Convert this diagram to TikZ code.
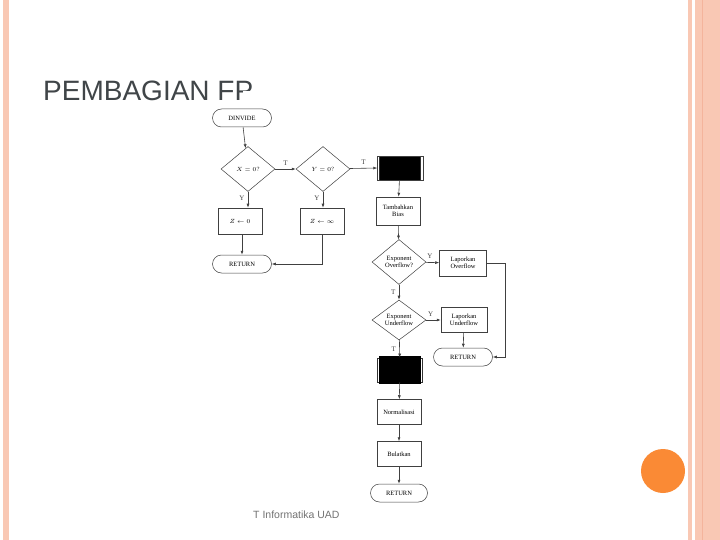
\documentclass[tikz,border=0pt]{standalone}
\usepackage{fontspec}
\setmainfont{Liberation Serif}
\newfontfamily\titlefont{Liberation Sans}
\usetikzlibrary{shapes.geometric,arrows.meta}
\definecolor{pinkb}{HTML}{F9C8B4}
\definecolor{pinkd}{HTML}{F4B49C}
\definecolor{orng}{HTML}{FA8A35}
\definecolor{ttl}{HTML}{404548}
\begin{document}
\begin{tikzpicture}[x=1pt,y=-1pt,
  box/.style={draw=black!75,line width=0.5pt,minimum width=44pt,minimum height=26pt,align=center,font=\fontsize{6.5}{7.5}\selectfont,inner sep=1pt},
  term/.style={draw=black!75,line width=0.5pt,rounded corners=9pt,minimum width=59pt,minimum height=18pt,font=\fontsize{6.5}{7.5}\selectfont},
  dec/.style={draw=black!75,line width=0.5pt,diamond,aspect=1.2,minimum width=54pt,minimum height=45pt,inner sep=0pt,align=center,font=\fontsize{6.5}{7.5}\selectfont},
  blk/.style={draw=black!80,fill=black,minimum width=41pt,minimum height=24pt},
  arr/.style={-{Latex[length=4pt,width=3pt]},black!75,line width=0.6pt},
  lab/.style={font=\fontsize{7}{8}\selectfont}]
\useasboundingbox (0,0) rectangle (720,540);
\fill[white] (0,0) rectangle (720,540);
\fill[pinkb] (3,0) rectangle (9,540);
\fill[pinkb] (688,0) rectangle (692,540);
\fill[pinkb] (695,0) rectangle (720,540);
\draw[pinkd,line width=1pt] (702,0) -- (702,540);
\fill[orng] (663,471) circle (22);
\node[anchor=base west,text=ttl,font=\titlefont\fontsize{28}{30}\selectfont,inner sep=0] (title) at (43,101) {PEMBAGIAN FP};
\node[anchor=base west,text=black!55,font=\titlefont\fontsize{10.5}{12}\selectfont,inner sep=0] (foot) at (253,518) {T Informatika UAD};
\fill[white] (205,104) rectangle (500,506);
\fill[white] (243,91) rectangle (500,104);
% nodes
\node[term] (start) at (242,118) {DINVIDE};
\node[dec] (dx) at (248,169) {$X=0?$};
\node[dec] (dy) at (323,169) {$Y=0?$};
\node[blk] (b1) at (400,168) {};
\draw[black!75] ([xshift=-2pt]b1.north west) rectangle ([xshift=2pt]b1.south east);
\node[box] (z0) at (240,221) {$Z\leftarrow 0$};
\node[box] (zi) at (322,221) {$Z\leftarrow\infty$};
\node[term] (r1) at (242,264) {RETURN};
\node[box,minimum height=28pt] (tb) at (398,211) {Tambahkan\\Bias};
\node[dec,aspect=1.1] (eo) at (399,262) {Exponent\\Overflow?};
\node[box,minimum width=47pt] (lo) at (463,263) {Laporkan\\Overflow};
\node[dec,aspect=1.3,minimum height=40pt] (eu) at (399,320) {Exponent\\Underflow};
\node[box,minimum width=46pt,minimum height=25pt] (lu) at (464,320) {Laporkan\\Underflow};
\node[term] (r2) at (463,357) {RETURN};
\node[draw=black!80,minimum width=45pt,minimum height=24pt,line width=0.8pt] (b2) at (400,370) {};
\fill[black] ([shift={(2pt,-2pt)}]b2.south west) rectangle ([shift={(-2pt,2pt)}]b2.north east);
\node[box,minimum height=25pt] (nm) at (399,412) {Normalisasi};
\node[box,minimum height=25pt] (bl) at (399,454) {Bulatkan};
\node[term,minimum width=57pt] (r3) at (399,493) {RETURN};
% connectors
\draw[arr] (start) -- (dx);
\draw[arr] (dx) -- node[lab,above]{T} (dy);
\draw[arr] (dy) -- node[lab,above]{T} ([xshift=-2pt]b1.west);
\draw[arr] (dx) -- node[lab,left,pos=0.4]{Y} (dx|-z0.north);
\draw[arr] (dy) -- node[lab,left,pos=0.4]{Y} (dy|-zi.north);
\draw[arr] (z0.south-|r1) -- (r1);
\draw[arr] (zi.south) |- (r1.east);
\draw[arr] (b1) -- (tb);
\draw[arr] (tb) -- (eo);
\draw[arr] (eo) -- node[lab,above,pos=0.3]{Y} (lo);
\draw[arr] (lo.east) -| (505,357) -- (r2.east);
\draw[arr] (eo) -- node[lab,left]{T} (eu);
\draw[arr] (eu) -- node[lab,above,pos=0.3]{Y} (lu);
\draw[arr] (lu) -- (r2);
\draw[arr] (eu) -- node[lab,left]{T} (b2);
\draw[arr] (b2) -- (nm);
\draw[arr] (nm) -- (bl);
\draw[arr] (bl) -- (r3);
\end{tikzpicture}
\end{document}
